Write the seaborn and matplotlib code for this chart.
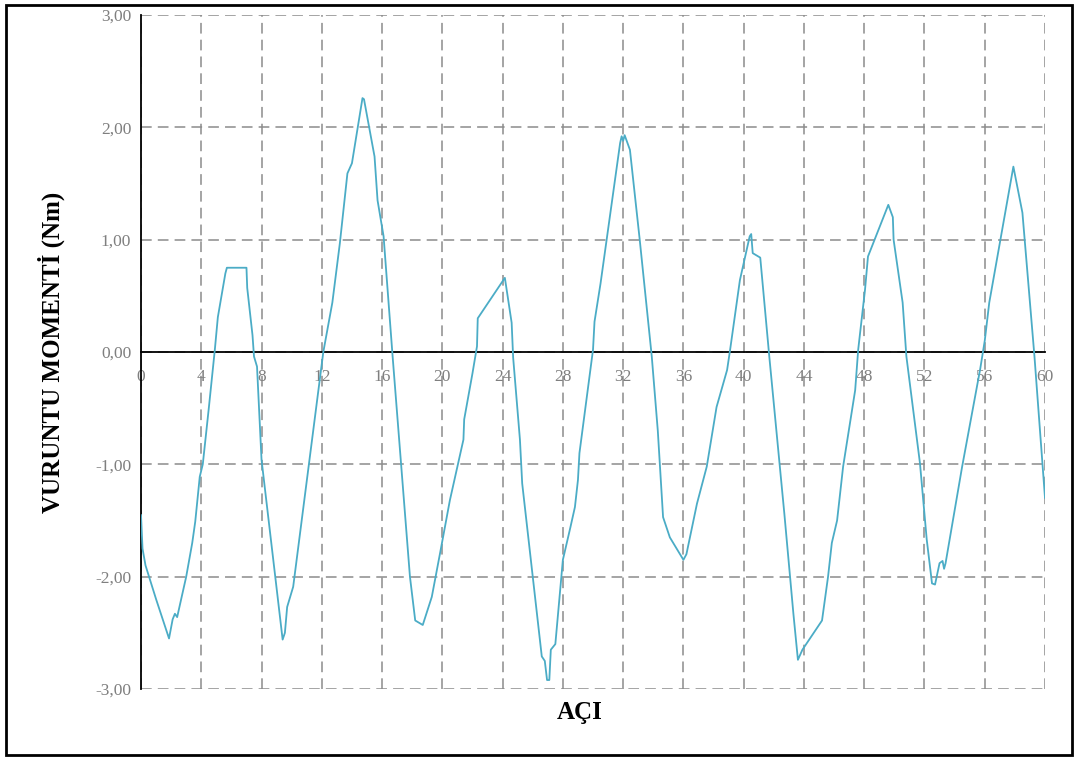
import matplotlib
matplotlib.use("Agg")
import matplotlib.pyplot as plt
import seaborn as sns
import pandas as pd
from matplotlib.patches import Rectangle
from matplotlib.ticker import FuncFormatter

# Data
aci = [0, 0.1, 0.3, 1.0, 1.86, 2.0, 2.1, 2.25, 2.4, 3.0, 3.4, 3.6, 3.9, 4.1, 4.5, 4.9,
       5.1, 5.6, 5.7, 7.0, 7.05, 7.4, 7.5, 7.7, 8.0, 9.4, 9.55, 9.7, 10.1, 12.1,
       12.7, 13.2, 13.7, 14.0, 14.7, 14.8, 15.5, 15.7, 16.1, 16.7, 17.85, 18.2,
       18.7, 19.3, 19.85, 20.5, 21.0, 21.4, 21.45, 22.0, 22.3, 22.35, 24.15, 24.6,
       24.7, 25.15, 25.3, 26.6, 26.8, 26.95, 27.1, 27.2, 27.5, 28.0, 28.5, 28.8,
       29.0, 29.1, 30.0, 30.1, 30.5, 31.8, 31.9, 32.0, 32.1, 32.45, 33.1, 33.9,
       34.3, 34.65, 35.1, 36.0, 36.2, 36.9, 37.55, 38.2, 38.9, 39.1, 39.75, 40.4,
       40.5, 40.6, 41.1, 41.7, 42.7, 43.1, 43.3, 43.6, 43.9, 45.2, 45.6, 45.85,
       46.2, 46.6, 47.4, 47.6, 48.05, 48.25, 49.6, 49.9, 49.95, 50.55, 50.8, 51.7,
       52.15, 52.5, 52.7, 53.0, 53.2, 53.3, 53.4, 54.5, 55.7, 56.0, 56.3, 57.9,
       58.5, 59.3, 60.0]
moment = [-1.45, -1.75, -1.9, -2.2, -2.55, -2.45, -2.38, -2.33, -2.36, -2.0, -1.70,
          -1.51, -1.11, -1.0, -0.5, 0.02, 0.31, 0.70, 0.75, 0.75, 0.57, 0.15, -0.04,
          -0.13, -0.96, -2.56, -2.5, -2.27, -2.09, 0.0, 0.44, 0.97, 1.59, 1.68, 2.26,
          2.25, 1.74, 1.35, 1.03, -0.04, -2.0, -2.39, -2.43, -2.18, -1.79, -1.32,
          -1.02, -0.78, -0.6, -0.19, 0.05, 0.30, 0.66, 0.26, -0.05, -0.78, -1.17,
          -2.71, -2.75, -2.92, -2.92, -2.65, -2.6, -1.85, -1.56, -1.38, -1.14, -0.9,
          0.02, 0.27, 0.61, 1.86, 1.92, 1.88, 1.93, 1.8, 1.0, -0.04, -0.7, -1.47,
          -1.65, -1.85, -1.80, -1.35, -1.02, -0.49, -0.16, 0.02, 0.64, 1.03, 1.05,
          0.88, 0.84, -0.04, -1.44, -2.03, -2.33, -2.74, -2.65, -2.39, -2.0, -1.70,
          -1.50, -1.02, -0.34, 0.02, 0.55, 0.85, 1.31, 1.2, 1.0, 0.44, -0.04, -0.99,
          -1.67, -2.06, -2.07, -1.88, -1.86, -1.93, -1.88, -1.02, -0.15, 0.1, 0.44,
          1.65, 1.24, -0.04, -1.3]
x_ticks = list(range(0, 61, 4))
y_ticks = [-3, -2, -1, 0, 1, 2, 3]

df = pd.DataFrame({"AÇI": aci, "moment": moment})

sns.set_theme(style="white")
plt.rcParams["font.family"] = ["Liberation Serif", "DejaVu Serif"]

fig = plt.figure(figsize=(10.78, 7.6), dpi=100)
ax = fig.add_axes([0.1308, 0.0934, 0.9694 - 0.1308, 0.9803 - 0.0934])

sns.lineplot(data=df, x="AÇI", y="moment", ax=ax, sort=False, estimator=None,
             color="#4BACC6", linewidth=1.3, zorder=3)

ax.set_xlim(0, 60)
ax.set_ylim(-3, 3)
ax.set_xticks(x_ticks)
ax.set_yticks(y_ticks)
ax.yaxis.set_major_formatter(FuncFormatter(lambda v, p: f"{v:.2f}".replace(".", ",")))

ax.grid(True, color="#8c8c8c", linestyle=(0, (7, 4)), linewidth=1.1, zorder=1)
for s in ["top", "right"]:
    ax.spines[s].set_visible(False)
ax.spines["left"].set_color("black")
ax.spines["left"].set_linewidth(1.3)
ax.spines["bottom"].set_position(("data", 0))
ax.spines["bottom"].set_color("black")
ax.spines["bottom"].set_linewidth(1.3)
ax.spines["bottom"].set_zorder(2)

ax.tick_params(axis="both", length=0, labelsize=12.5, labelcolor="#7f7f7f")
ax.tick_params(axis="x", pad=12)
ax.tick_params(axis="y", pad=7)

ax.set_xlabel("")
ax.set_ylabel("VURUNTU MOMENTİ (Nm)", fontsize=18, fontweight="bold", color="black",
              labelpad=22)
fig.text(0.538, 0.062, "AÇI", ha="center", va="center", fontsize=18,
         fontweight="bold", color="black")

fig.patches.append(Rectangle((0.006, 0.006), 0.988, 0.988, transform=fig.transFigure,
                             fill=False, edgecolor="black", linewidth=2))

fig.savefig("out.png", dpi=100)
